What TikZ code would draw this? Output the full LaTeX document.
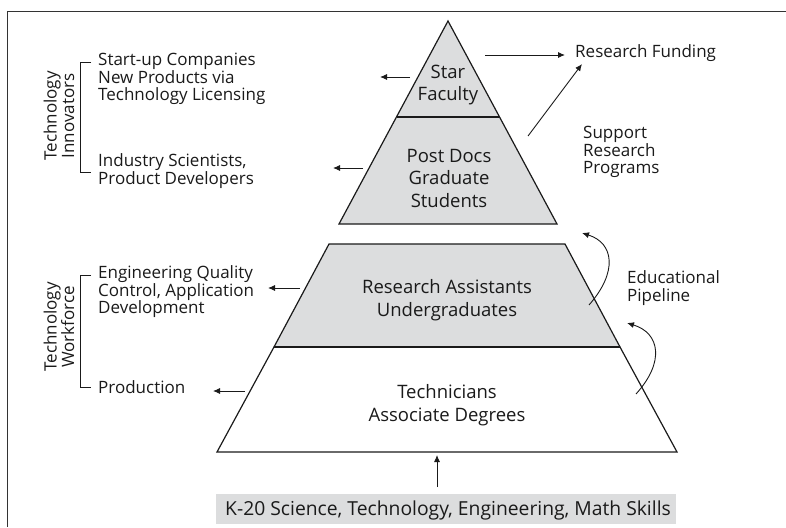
\documentclass[tikz,border=0pt]{standalone}
\usepackage{fontspec}
\setmainfont{Open Sans}
\usetikzlibrary{arrows.meta}
\definecolor{pgray}{HTML}{DCDDDE}
\definecolor{ink}{HTML}{1A1A1A}
\begin{document}
\begin{tikzpicture}[x=1pt,y=-1pt,
  txt/.style={font=\fontsize{17}{17.5}\selectfont, inner sep=0pt, text=ink},
  lbl/.style={txt, align=left, anchor=west},
  ctr/.style={txt, align=center},
  big/.style={ctr, font=\fontsize{18.5}{22.5}\selectfont},
  arr/.style={-{Latex[length=7pt,width=6pt]}, line width=0.9pt, draw=ink},
  pyr/.style={draw=ink, line width=1.2pt, line join=miter},
  brk/.style={draw=ink, line width=1pt},
]
\useasboundingbox (0,0) rectangle (786,527);
% frame
\draw[line width=1pt, draw=black!80] (7,527) -- (7,12) -- (786,12);

% top triangle
\coordinate (apex) at (448,21);
\coordinate (sl) at (396.5,117);
\coordinate (sr) at (499.5,117);
\coordinate (tl) at (339,224);
\coordinate (tr) at (557,224);
\filldraw[pyr, fill=pgray] (apex) -- (tr) -- (tl) -- cycle;
\draw[pyr, line width=1.5pt] (sl) -- (sr);

% middle trapezoid
\coordinate (ml) at (329,244);
\coordinate (mr) at (565,244);
\coordinate (bl) at (274,347);
\coordinate (br) at (620,347);
\filldraw[pyr, fill=pgray] (ml) -- (mr) -- (br) -- (bl) -- cycle;
\draw[pyr, line width=1.5pt] (bl) -- (br);

% bottom trapezoid
\coordinate (ll) at (217,452);
\coordinate (lr) at (677,452);
\draw[pyr] (bl) -- (ll) -- (lr) -- (br);

% bottom box
\fill[pgray] (216,494) rectangle (676,524);
\node[big, font=\fontsize{19.3}{22}\selectfont] (k20) at (448,510) {K-20 Science, Technology, Engineering, Math Skills};

% pyramid texts
\node[big] (star) at (448,85) {Star\\Faculty};
\node[big] (post) at (449,178) {Post Docs\\Graduate\\Students};
\node[big] (ra) at (447,300) {Research Assistants\\Undergraduates};
\node[big] (tech) at (447,405) {Technicians\\Associate Degrees};

% left labels
\node[lbl] (startup) at (98,79) {Start-up Companies\\New Products via\\Technology Licensing};
\node[lbl] (industry) at (98,171) {Industry Scientists,\\Product Developers};
\node[lbl] (eng) at (98,292) {Engineering Quality\\Control, Application\\Development};
\node[lbl] (prod) at (98,387) {Production};
\node[ctr, rotate=90] (innov) at (59,116) {Technology\\Innovators};
\node[ctr, rotate=90] (work) at (59,327) {Technology\\Workforce};

% brackets
\draw[brk] (91,62) -- (80,62) -- (80,172) -- (91,172);
\draw[brk] (91,275) -- (80,275) -- (80,387) -- (91,387);

% right labels
\node[lbl] (fund) at (575,53) {Research Funding};
\node[lbl] (support) at (583,152) {Support\\Research\\Programs};
\node[lbl] (edu) at (627,288) {Educational\\Pipeline};

% arrows to the left
\coordinate (a1s) at (410,77);  \coordinate (a1e) at (380,77);
\coordinate (a2s) at (363,168); \coordinate (a2e) at (333,168);
\coordinate (a3s) at (300,288); \coordinate (a3e) at (268,288);
\coordinate (a4s) at (245,391); \coordinate (a4e) at (213,391);
\draw[arr] (a1s) -- (a1e);
\draw[arr] (a2s) -- (a2e);
\draw[arr] (a3s) -- (a3e);
\draw[arr] (a4s) -- (a4e);

% funding arrows
\coordinate (f1s) at (485,55); \coordinate (f1e) at (565,55);
\coordinate (f2s) at (528,136); \coordinate (f2e) at (582,64);
\draw[arr] (f1s) -- (f1e);
\draw[arr] (f2s) -- (f2e);

% skills arrow
\coordinate (ks) at (437,487); \coordinate (ke) at (437,455);
\draw[arr] (ks) -- (ke);

% pipeline curves
\coordinate (c1s) at (589,305); \coordinate (c1e) at (582,233);
\coordinate (c2s) at (636,394); \coordinate (c2e) at (627,323);
\draw[arr] (c1s) .. controls (618,272) and (614,243) .. (c1e);
\draw[arr] (c2s) .. controls (665,362) and (660,333) .. (c2e);
\end{tikzpicture}
\end{document}
